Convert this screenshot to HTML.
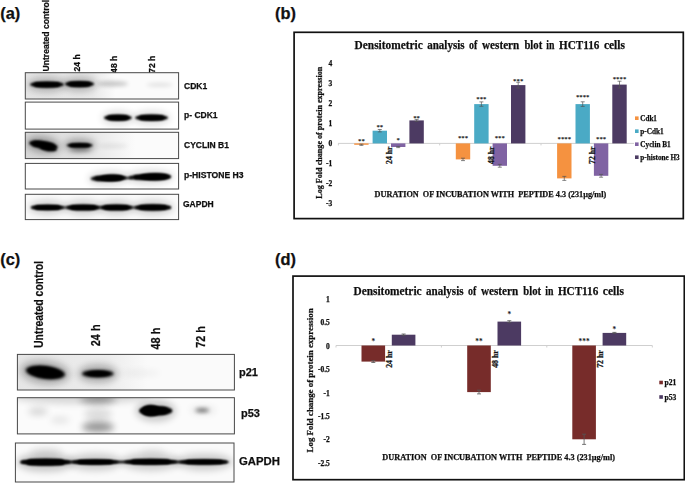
<!DOCTYPE html>
<html><head><meta charset="utf-8"><title>Figure</title>
<style>
html,body{margin:0;padding:0;background:#fff;}
body{width:685px;height:483px;overflow:hidden;font-family:"Liberation Sans",sans-serif;}
svg{display:block;}
</style></head><body>
<svg width="685" height="483" viewBox="0 0 685 483">
<defs>
<filter id="b1" x="-30%" y="-100%" width="160%" height="300%"><feGaussianBlur stdDeviation="1.3"/></filter>
<filter id="b2" x="-30%" y="-150%" width="160%" height="400%"><feGaussianBlur stdDeviation="2.2"/></filter>
<filter id="b3" x="-40%" y="-200%" width="180%" height="500%"><feGaussianBlur stdDeviation="3.5"/></filter>
<filter id="tb" x="-10%" y="-10%" width="120%" height="120%"><feGaussianBlur stdDeviation="0.35"/></filter>
<linearGradient id="gA1" x1="0" x2="1" y1="0" y2="0"><stop offset="0" stop-color="#e4e4e4"/><stop offset="0.75" stop-color="#e9e9e9"/><stop offset="1" stop-color="#fbfbfb"/></linearGradient>
<linearGradient id="gA3" x1="0" x2="1" y1="0" y2="0"><stop offset="0" stop-color="#d6d6d6"/><stop offset="0.6" stop-color="#e6e6e6"/><stop offset="1" stop-color="#fbfbfb"/></linearGradient>
<linearGradient id="gC1" x1="0" x2="1" y1="0" y2="0"><stop offset="0" stop-color="#e6e6e6"/><stop offset="0.7" stop-color="#ececec"/><stop offset="1" stop-color="#fafafa"/></linearGradient>
<linearGradient id="gC2" x1="0" x2="0" y1="0" y2="1"><stop offset="0" stop-color="#dcdcdc"/><stop offset="1" stop-color="#fbfbfb"/></linearGradient>
<filter id="b15" x="-30%" y="-100%" width="160%" height="300%"><feGaussianBlur stdDeviation="1.6"/></filter>
</defs>
<rect width="685" height="483" fill="#fff"/>

<text x="0.2" y="18.7" font-size="16.4" font-family="Liberation Sans, sans-serif" font-weight="bold" text-anchor="start" fill="#111" stroke="#111" stroke-width="0.25" >(a)</text>
<text x="275" y="18.7" font-size="16.4" font-family="Liberation Sans, sans-serif" font-weight="bold" text-anchor="start" fill="#111" stroke="#111" stroke-width="0.25" >(b)</text>
<text x="0.2" y="265.1" font-size="16.4" font-family="Liberation Sans, sans-serif" font-weight="bold" text-anchor="start" fill="#111" stroke="#111" stroke-width="0.25" >(c)</text>
<text x="275" y="265.1" font-size="16.4" font-family="Liberation Sans, sans-serif" font-weight="bold" text-anchor="start" fill="#111" stroke="#111" stroke-width="0.25" >(d)</text>
<g filter="url(#tb)">
<text x="49" y="71.5" font-size="8.6" font-family="Liberation Sans, sans-serif" font-weight="bold" text-anchor="start" fill="#111" stroke="#111" stroke-width="0.25" transform="rotate(-90 49 71.5)" >Untreated control</text>
<text x="80.3" y="71.5" font-size="8.6" font-family="Liberation Sans, sans-serif" font-weight="bold" text-anchor="start" fill="#111" stroke="#111" stroke-width="0.25" transform="rotate(-90 80.3 71.5)" >24 h</text>
<text x="117.3" y="72.9" font-size="8.6" font-family="Liberation Sans, sans-serif" font-weight="bold" text-anchor="start" fill="#111" stroke="#111" stroke-width="0.25" transform="rotate(-90 117.3 72.9)" >48 h</text>
<text x="155" y="72.9" font-size="8.6" font-family="Liberation Sans, sans-serif" font-weight="bold" text-anchor="start" fill="#111" stroke="#111" stroke-width="0.25" transform="rotate(-90 155 72.9)" >72 h</text>
<text x="184" y="89.3" font-size="8.5" font-family="Liberation Sans, sans-serif" font-weight="bold" text-anchor="start" fill="#111" stroke="#111" stroke-width="0.25" >CDK1</text>
<text x="184" y="117.8" font-size="8.5" font-family="Liberation Sans, sans-serif" font-weight="bold" text-anchor="start" fill="#111" stroke="#111" stroke-width="0.25" >p- CDK1</text>
<text x="184" y="148" font-size="8.5" font-family="Liberation Sans, sans-serif" font-weight="bold" text-anchor="start" fill="#111" stroke="#111" stroke-width="0.25" >CYCLIN B1</text>
<text x="184" y="178" font-size="8.6" font-family="Liberation Sans, sans-serif" font-weight="bold" text-anchor="start" fill="#111" stroke="#111" stroke-width="0.25" >p-HISTONE H3</text>
<text x="183" y="207" font-size="8.5" font-family="Liberation Sans, sans-serif" font-weight="bold" text-anchor="start" fill="#111" stroke="#111" stroke-width="0.25" >GAPDH</text>
</g>
<clipPath id="cpa1"><rect x="25.3" y="72.7" width="153.29999999999998" height="26.299999999999997"/></clipPath>
<rect x="25.3" y="72.7" width="153.29999999999998" height="26.299999999999997" fill="#fbfbfb"/>
<g clip-path="url(#cpa1)">
<rect x="25.3" y="72.7" width="90" height="26.299999999999997" fill="url(#gA1)"/>
<ellipse cx="47.0" cy="84.6" rx="19.5" ry="7.6" fill="#000" opacity="0.22" filter="url(#b3)"/>
<ellipse cx="47.0" cy="84.6" rx="16.9" ry="3.2" fill="#000" opacity="1" filter="url(#b1)"/>
<rect x="34.1" y="82.4" width="25.7" height="4.3" rx="2.2" ry="2.2" fill="#000" opacity="1" filter="url(#b1)"/>
<ellipse cx="79.5" cy="84.1" rx="17.0" ry="7.6" fill="#000" opacity="0.22" filter="url(#b3)"/>
<ellipse cx="79.5" cy="84.1" rx="14.5" ry="3.2" fill="#000" opacity="1" filter="url(#b1)"/>
<rect x="68.6" y="81.9" width="21.8" height="4.3" rx="2.2" ry="2.2" fill="#000" opacity="1" filter="url(#b1)"/>
<ellipse cx="112.5" cy="83.8" rx="15.5" ry="2.5" fill="#000" opacity="0.22" filter="url(#b2)"/>
<ellipse cx="159.5" cy="84.8" rx="13.5" ry="2.0" fill="#000" opacity="0.1" filter="url(#b2)"/>
</g>
<rect x="25.3" y="72.7" width="153.29999999999998" height="26.299999999999997" fill="none" stroke="#484848" stroke-width="1"/>
<clipPath id="cpa2"><rect x="25.3" y="102.1" width="153.29999999999998" height="27.0"/></clipPath>
<rect x="25.3" y="102.1" width="153.29999999999998" height="27.0" fill="#fff"/>
<g clip-path="url(#cpa2)">
<ellipse cx="117.9" cy="117.8" rx="16.4" ry="7.6" fill="#000" opacity="0.12" filter="url(#b3)"/>
<ellipse cx="117.9" cy="117.8" rx="13.9" ry="3.2" fill="#000" opacity="1" filter="url(#b1)"/>
<rect x="107.4" y="115.6" width="20.9" height="4.3" rx="2.2" ry="2.2" fill="#000" opacity="1" filter="url(#b1)"/>
<ellipse cx="151.6" cy="117.8" rx="18.9" ry="7.6" fill="#000" opacity="0.12" filter="url(#b3)"/>
<ellipse cx="151.6" cy="117.8" rx="16.4" ry="3.2" fill="#000" opacity="1" filter="url(#b1)"/>
<rect x="139.2" y="115.6" width="24.8" height="4.3" rx="2.2" ry="2.2" fill="#000" opacity="1" filter="url(#b1)"/>
</g>
<rect x="25.3" y="102.1" width="153.29999999999998" height="27.0" fill="none" stroke="#484848" stroke-width="1"/>
<clipPath id="cpa3"><rect x="25.3" y="132.3" width="153.29999999999998" height="26.299999999999983"/></clipPath>
<rect x="25.3" y="132.3" width="153.29999999999998" height="26.299999999999983" fill="#fbfbfb"/>
<g clip-path="url(#cpa3)">
<rect x="25.3" y="132.3" width="110" height="26.299999999999983" fill="url(#gA3)"/>
<ellipse cx="43.4" cy="145.0" rx="16.9" ry="8.3" fill="#000" opacity="0.3" filter="url(#b3)" transform="rotate(9 43.4 145.0)"/>
<ellipse cx="43.4" cy="145.0" rx="14.4" ry="3.9" fill="#000" opacity="1" filter="url(#b1)" transform="rotate(9 43.4 145.0)"/>
<rect x="32.6" y="142.3" width="21.7" height="5.3" rx="2.7" ry="2.7" fill="#000" opacity="1" filter="url(#b1)" transform="rotate(9 43.4 145.0)"/>
<ellipse cx="48.5" cy="148.6" rx="8.5" ry="2.8" fill="#000" opacity="1" filter="url(#b1)" transform="rotate(8 48.5 148.6)"/>
<ellipse cx="79.7" cy="145.3" rx="15.6" ry="6.7" fill="#000" opacity="0.3" filter="url(#b3)"/>
<ellipse cx="79.7" cy="145.3" rx="13.1" ry="2.3" fill="#000" opacity="1" filter="url(#b1)"/>
<rect x="69.8" y="143.8" width="19.7" height="3.1" rx="1.5" ry="1.5" fill="#000" opacity="1" filter="url(#b1)"/>
<ellipse cx="80.5" cy="149.3" rx="10.5" ry="1.8" fill="#000" opacity="0.4" filter="url(#b2)"/>
<ellipse cx="113.0" cy="146" rx="15.0" ry="2.0" fill="#000" opacity="0.07" filter="url(#b2)"/>
</g>
<rect x="25.3" y="132.3" width="153.29999999999998" height="26.299999999999983" fill="none" stroke="#484848" stroke-width="1"/>
<clipPath id="cpa4"><rect x="25.3" y="163.4" width="153.29999999999998" height="25.599999999999994"/></clipPath>
<rect x="25.3" y="163.4" width="153.29999999999998" height="25.599999999999994" fill="#fff"/>
<g clip-path="url(#cpa4)">
<ellipse cx="108.5" cy="178.2" rx="20.5" ry="7.4" fill="#000" opacity="0.14" filter="url(#b3)" transform="rotate(-1.5 108.5 178.2)"/>
<ellipse cx="108.5" cy="178.2" rx="18.0" ry="3.0" fill="#000" opacity="1" filter="url(#b1)" transform="rotate(-1.5 108.5 178.2)"/>
<rect x="94.8" y="176.2" width="27.3" height="4.1" rx="2.0" ry="2.0" fill="#000" opacity="1" filter="url(#b1)" transform="rotate(-1.5 108.5 178.2)"/>
<ellipse cx="150.0" cy="177.0" rx="24.0" ry="7.4" fill="#000" opacity="0.14" filter="url(#b3)" transform="rotate(-1 150.0 177.0)"/>
<ellipse cx="150.0" cy="177.0" rx="21.5" ry="3.0" fill="#000" opacity="1" filter="url(#b1)" transform="rotate(-1 150.0 177.0)"/>
<rect x="133.6" y="175.0" width="32.8" height="4.1" rx="2.0" ry="2.0" fill="#000" opacity="1" filter="url(#b1)" transform="rotate(-1 150.0 177.0)"/>
<ellipse cx="155.2" cy="176.7" rx="15.2" ry="3.8" fill="#000" opacity="1" filter="url(#b1)"/>
<ellipse cx="112.0" cy="177.8" rx="12.0" ry="3.4" fill="#000" opacity="1" filter="url(#b1)"/>
<rect x="121.0" y="176.9" width="12.0" height="2.2" rx="1.1" ry="1.1" fill="#000" opacity="0.9" filter="url(#b1)"/>
</g>
<rect x="25.3" y="163.4" width="153.29999999999998" height="25.599999999999994" fill="none" stroke="#484848" stroke-width="1"/>
<clipPath id="cpa5"><rect x="25.3" y="194.3" width="153.29999999999998" height="25.299999999999983"/></clipPath>
<rect x="25.3" y="194.3" width="153.29999999999998" height="25.299999999999983" fill="#fafafa"/>
<g clip-path="url(#cpa5)">
<rect x="31.0" y="206.4" width="140.0" height="2.2" rx="1.1" ry="1.1" fill="#000" opacity="0.9" filter="url(#b1)"/>
<ellipse cx="47.5" cy="207.5" rx="18.9" ry="7.2" fill="#000" opacity="0.17" filter="url(#b3)"/>
<ellipse cx="47.5" cy="207.5" rx="16.4" ry="2.8" fill="#000" opacity="1" filter="url(#b1)"/>
<rect x="35.1" y="205.6" width="24.8" height="3.8" rx="1.9" ry="1.9" fill="#000" opacity="1" filter="url(#b1)"/>
<ellipse cx="83.2" cy="207.5" rx="19.2" ry="7.5" fill="#000" opacity="0.17" filter="url(#b3)"/>
<ellipse cx="83.2" cy="207.5" rx="16.8" ry="3.1" fill="#000" opacity="1" filter="url(#b1)"/>
<rect x="70.6" y="205.4" width="25.4" height="4.1" rx="2.1" ry="2.1" fill="#000" opacity="1" filter="url(#b1)"/>
<ellipse cx="116.3" cy="207.5" rx="18.6" ry="7.5" fill="#000" opacity="0.17" filter="url(#b3)"/>
<ellipse cx="116.3" cy="207.5" rx="16.1" ry="3.1" fill="#000" opacity="1" filter="url(#b1)"/>
<rect x="104.1" y="205.4" width="24.4" height="4.1" rx="2.1" ry="2.1" fill="#000" opacity="1" filter="url(#b1)"/>
<ellipse cx="152.9" cy="207.5" rx="20.7" ry="7.6" fill="#000" opacity="0.17" filter="url(#b3)"/>
<ellipse cx="152.9" cy="207.5" rx="18.2" ry="3.2" fill="#000" opacity="1" filter="url(#b1)"/>
<rect x="139.1" y="205.3" width="27.6" height="4.3" rx="2.2" ry="2.2" fill="#000" opacity="1" filter="url(#b1)"/>
</g>
<rect x="25.3" y="194.3" width="153.29999999999998" height="25.299999999999983" fill="none" stroke="#484848" stroke-width="1"/>
<g filter="url(#tb)">
<text x="43.3" y="348" font-size="12" font-family="Liberation Sans, sans-serif" font-weight="bold" text-anchor="start" fill="#111" stroke="#111" stroke-width="0.25" transform="rotate(-90 43.3 348)" textLength="87" lengthAdjust="spacingAndGlyphs">Untreated control</text>
<text x="100.2" y="346.2" font-size="12" font-family="Liberation Sans, sans-serif" font-weight="bold" text-anchor="start" fill="#111" stroke="#111" stroke-width="0.25" transform="rotate(-90 100.2 346.2)" textLength="21.8" lengthAdjust="spacingAndGlyphs">24 h</text>
<text x="159.6" y="349.5" font-size="12" font-family="Liberation Sans, sans-serif" font-weight="bold" text-anchor="start" fill="#111" stroke="#111" stroke-width="0.25" transform="rotate(-90 159.6 349.5)" textLength="21.8" lengthAdjust="spacingAndGlyphs">48 h</text>
<text x="204.6" y="347.8" font-size="12" font-family="Liberation Sans, sans-serif" font-weight="bold" text-anchor="start" fill="#111" stroke="#111" stroke-width="0.25" transform="rotate(-90 204.6 347.8)" textLength="21.8" lengthAdjust="spacingAndGlyphs">72 h</text>
<text x="239" y="375.5" font-size="11" font-family="Liberation Sans, sans-serif" font-weight="bold" text-anchor="start" fill="#111" stroke="#111" stroke-width="0.25" >p21</text>
<text x="241" y="417" font-size="11" font-family="Liberation Sans, sans-serif" font-weight="bold" text-anchor="start" fill="#111" stroke="#111" stroke-width="0.25" >p53</text>
<text x="239" y="465" font-size="11.3" font-family="Liberation Sans, sans-serif" font-weight="bold" text-anchor="start" fill="#111" stroke="#111" stroke-width="0.25" >GAPDH</text>
</g>
<clipPath id="cpc1"><rect x="17.4" y="354.4" width="217.0" height="35.60000000000002"/></clipPath>
<rect x="17.4" y="354.4" width="217.0" height="35.60000000000002" fill="#fafafa"/>
<g clip-path="url(#cpc1)">
<rect x="17.4" y="354" width="130" height="36" fill="url(#gC1)"/>
<ellipse cx="45.0" cy="372.3" rx="25.0" ry="12.0" fill="#000" opacity="0.25" filter="url(#b3)" transform="rotate(6 45.0 372.3)"/>
<ellipse cx="45.4" cy="372.3" rx="19.8" ry="6.6" fill="#000" opacity="1" filter="url(#b15)" transform="rotate(7 45.4 372.3)"/>
<ellipse cx="45.0" cy="372.3" rx="16.0" ry="5.2" fill="#000" opacity="1" filter="url(#b1)" transform="rotate(7 45.0 372.3)"/>
<ellipse cx="98.0" cy="373.6" rx="20.0" ry="9.5" fill="#000" opacity="0.25" filter="url(#b3)"/>
<ellipse cx="97.8" cy="373.7" rx="15.8" ry="3.8" fill="#000" opacity="1" filter="url(#b15)"/>
<ellipse cx="98.0" cy="373.7" rx="11.0" ry="2.6" fill="#000" opacity="1" filter="url(#b1)"/>
<ellipse cx="140.0" cy="373" rx="20.0" ry="2.5" fill="#000" opacity="0.06" filter="url(#b3)"/>
</g>
<rect x="17.4" y="354.4" width="217.0" height="35.60000000000002" fill="none" stroke="#484848" stroke-width="1"/>
<clipPath id="cpc2"><rect x="17.4" y="397.7" width="217.0" height="36.19999999999999"/></clipPath>
<rect x="17.4" y="397.7" width="217.0" height="36.19999999999999" fill="#fbfbfb"/>
<g clip-path="url(#cpc2)">
<ellipse cx="80.0" cy="396" rx="70.0" ry="8.0" fill="#000" opacity="0.14" filter="url(#b3)"/>
<ellipse cx="155.7" cy="410.8" rx="20.2" ry="10.8" fill="#000" opacity="0.2" filter="url(#b3)"/>
<ellipse cx="155.7" cy="410.8" rx="16.7" ry="4.9" fill="#000" opacity="1" filter="url(#b1)"/>
<rect x="143.7" y="407.3" width="23.9" height="6.9" rx="3.5" ry="3.5" fill="#000" opacity="1" filter="url(#b1)"/>
<ellipse cx="150.5" cy="410.6" rx="9.5" ry="5.8" fill="#000" opacity="1" filter="url(#b1)"/>
<ellipse cx="202.2" cy="410.2" rx="6.8" ry="1.7" fill="#000" opacity="0.62" filter="url(#b2)"/>
<ellipse cx="203.0" cy="410.2" rx="13.0" ry="4.5" fill="#000" opacity="0.07" filter="url(#b3)"/>
<ellipse cx="38.0" cy="411.5" rx="10.0" ry="3.5" fill="#000" opacity="0.16" filter="url(#b3)"/>
<ellipse cx="60.0" cy="420" rx="10.0" ry="3.0" fill="#000" opacity="0.1" filter="url(#b3)"/>
<ellipse cx="98.0" cy="399.5" rx="18.0" ry="3.0" fill="#000" opacity="0.45" filter="url(#b3)"/>
<ellipse cx="98.0" cy="427" rx="16.0" ry="5.0" fill="#000" opacity="0.42" filter="url(#b3)"/>
<ellipse cx="98.0" cy="414" rx="14.0" ry="6.0" fill="#000" opacity="0.12" filter="url(#b3)"/>
</g>
<rect x="17.4" y="397.7" width="217.0" height="36.19999999999999" fill="none" stroke="#484848" stroke-width="1"/>
<clipPath id="cpc3"><rect x="15.4" y="443" width="218.6" height="39"/></clipPath>
<rect x="15.4" y="443" width="218.6" height="39" fill="#fafafa"/>
<g clip-path="url(#cpc3)">
<rect x="21.0" y="460.8" width="206.0" height="2.4" rx="1.2" ry="1.2" fill="#000" opacity="0.95" filter="url(#b1)"/>
<ellipse cx="45.5" cy="462.2" rx="29.0" ry="9.5" fill="#000" opacity="0.2" filter="url(#b3)"/>
<ellipse cx="45.5" cy="462.2" rx="25.5" ry="3.6" fill="#000" opacity="1" filter="url(#b1)"/>
<rect x="27.0" y="459.7" width="37.0" height="5.0" rx="2.5" ry="2.5" fill="#000" opacity="1" filter="url(#b1)"/>
<ellipse cx="95.2" cy="462" rx="27.1" ry="8.7" fill="#000" opacity="0.18" filter="url(#b3)"/>
<ellipse cx="95.2" cy="462" rx="23.6" ry="2.8" fill="#000" opacity="1" filter="url(#b1)"/>
<rect x="78.0" y="460.1" width="34.3" height="3.9" rx="1.9" ry="1.9" fill="#000" opacity="1" filter="url(#b1)"/>
<ellipse cx="150.7" cy="461.8" rx="30.2" ry="8.9" fill="#000" opacity="0.18" filter="url(#b3)"/>
<ellipse cx="150.7" cy="461.8" rx="26.7" ry="3.0" fill="#000" opacity="1" filter="url(#b1)"/>
<rect x="131.3" y="459.7" width="38.7" height="4.2" rx="2.1" ry="2.1" fill="#000" opacity="1" filter="url(#b1)"/>
<ellipse cx="204.2" cy="462" rx="28.5" ry="8.6" fill="#000" opacity="0.18" filter="url(#b3)"/>
<ellipse cx="204.2" cy="462" rx="25.0" ry="2.7" fill="#000" opacity="1" filter="url(#b1)"/>
<rect x="186.1" y="460.1" width="36.3" height="3.7" rx="1.9" ry="1.9" fill="#000" opacity="1" filter="url(#b1)"/>
<ellipse cx="46.0" cy="452" rx="16.0" ry="5.0" fill="#000" opacity="0.08" filter="url(#b3)"/>
<ellipse cx="152.5" cy="452" rx="12.5" ry="4.0" fill="#000" opacity="0.06" filter="url(#b3)"/>
</g>
<rect x="15.4" y="443" width="218.6" height="39" fill="none" stroke="#484848" stroke-width="1"/>
<rect x="294.1" y="32.3" width="389.19999999999993" height="186.3" fill="#fff" stroke="#111" stroke-width="1.7"/>
<g filter="url(#tb)">
<text x="354.6" y="49.4" font-size="12.3" font-family="Liberation Serif, serif" font-weight="bold" text-anchor="start" fill="#111" stroke="#111" stroke-width="0.25" textLength="68.1" lengthAdjust="spacingAndGlyphs">Densitometric</text>
<text x="427.2" y="49.4" font-size="12.3" font-family="Liberation Serif, serif" font-weight="bold" text-anchor="start" fill="#111" stroke="#111" stroke-width="0.25" textLength="37.4" lengthAdjust="spacingAndGlyphs">analysis</text>
<text x="469.1" y="49.4" font-size="12.3" font-family="Liberation Serif, serif" font-weight="bold" text-anchor="start" fill="#111" stroke="#111" stroke-width="0.25" textLength="8.3" lengthAdjust="spacingAndGlyphs">of</text>
<text x="482.0" y="49.4" font-size="12.3" font-family="Liberation Serif, serif" font-weight="bold" text-anchor="start" fill="#111" stroke="#111" stroke-width="0.25" textLength="37.3" lengthAdjust="spacingAndGlyphs">western</text>
<text x="524.4" y="49.4" font-size="12.3" font-family="Liberation Serif, serif" font-weight="bold" text-anchor="start" fill="#111" stroke="#111" stroke-width="0.25" textLength="17.8" lengthAdjust="spacingAndGlyphs">blot</text>
<text x="546.3" y="49.4" font-size="12.3" font-family="Liberation Serif, serif" font-weight="bold" text-anchor="start" fill="#111" stroke="#111" stroke-width="0.25" textLength="8.2" lengthAdjust="spacingAndGlyphs">in</text>
<text x="559.0" y="49.4" font-size="12.3" font-family="Liberation Serif, serif" font-weight="bold" text-anchor="start" fill="#111" stroke="#111" stroke-width="0.25" textLength="40.4" lengthAdjust="spacingAndGlyphs">HCT116</text>
<text x="603.9" y="49.4" font-size="12.3" font-family="Liberation Serif, serif" font-weight="bold" text-anchor="start" fill="#111" stroke="#111" stroke-width="0.25" textLength="21.1" lengthAdjust="spacingAndGlyphs">cells</text>
<text x="332.3" y="206.0" font-size="7.5" font-family="Liberation Serif, serif" font-weight="bold" text-anchor="end" fill="#111" stroke="#111" stroke-width="0.25" >-3</text>
<text x="332.3" y="186.0" font-size="7.5" font-family="Liberation Serif, serif" font-weight="bold" text-anchor="end" fill="#111" stroke="#111" stroke-width="0.25" >-2</text>
<text x="332.3" y="166.0" font-size="7.5" font-family="Liberation Serif, serif" font-weight="bold" text-anchor="end" fill="#111" stroke="#111" stroke-width="0.25" >-1</text>
<text x="332.3" y="146.0" font-size="7.5" font-family="Liberation Serif, serif" font-weight="bold" text-anchor="end" fill="#111" stroke="#111" stroke-width="0.25" >0</text>
<text x="332.3" y="126.0" font-size="7.5" font-family="Liberation Serif, serif" font-weight="bold" text-anchor="end" fill="#111" stroke="#111" stroke-width="0.25" >1</text>
<text x="332.3" y="106.0" font-size="7.5" font-family="Liberation Serif, serif" font-weight="bold" text-anchor="end" fill="#111" stroke="#111" stroke-width="0.25" >2</text>
<text x="332.3" y="86.0" font-size="7.5" font-family="Liberation Serif, serif" font-weight="bold" text-anchor="end" fill="#111" stroke="#111" stroke-width="0.25" >3</text>
<text x="332.3" y="66.0" font-size="7.5" font-family="Liberation Serif, serif" font-weight="bold" text-anchor="end" fill="#111" stroke="#111" stroke-width="0.25" >4</text>
<text x="322.3" y="132.7" font-size="8.2" font-family="Liberation Serif, serif" font-weight="bold" text-anchor="middle" fill="#111" stroke="#111" stroke-width="0.25" transform="rotate(-90 322.3 132.7)" textLength="132" lengthAdjust="spacingAndGlyphs">Log Fold change of protein expression</text>
<text x="490.4" y="196.5" font-size="8.2" font-family="Liberation Serif, serif" font-weight="bold" text-anchor="middle" fill="#111" stroke="#111" stroke-width="0.25" textLength="231.6" lengthAdjust="spacingAndGlyphs">DURATION&#160; OF INCUBATION WITH&#160; PEPTIDE 4.3 (231µg/ml)</text>
</g>
<line x1="338" y1="143.4" x2="634" y2="143.4" stroke="#cfcfcf" stroke-width="1"/>
<line x1="338.4" y1="143.4" x2="338.4" y2="145.4" stroke="#cfcfcf" stroke-width="1"/>
<line x1="439.7" y1="143.4" x2="439.7" y2="145.4" stroke="#cfcfcf" stroke-width="1"/>
<line x1="541" y1="143.4" x2="541" y2="145.4" stroke="#cfcfcf" stroke-width="1"/>
<rect x="354.2" y="143.4" width="14.4" height="1.4" fill="#F59240"/>
<path d="M361.4 144.2V145.4M359.4 144.2H363.4M359.4 145.4H363.4" stroke="#555" stroke-width="0.7" fill="none"/>
<text x="361.4" y="142.6" font-size="6.8" font-family="Liberation Serif, serif" font-weight="bold" text-anchor="middle" fill="#111" stroke="#111" stroke-width="0" >**</text>
<rect x="372.6" y="130.7" width="14.4" height="12.7" fill="#4AAAC5"/>
<path d="M379.8 129.5V131.9M377.8 129.5H381.8M377.8 131.9H381.8" stroke="#555" stroke-width="0.7" fill="none"/>
<text x="379.79999999999995" y="129.2" font-size="6.8" font-family="Liberation Serif, serif" font-weight="bold" text-anchor="middle" fill="#111" stroke="#111" stroke-width="0" >**</text>
<rect x="391.0" y="143.4" width="14.4" height="3.6" fill="#8063A3"/>
<path d="M398.2 146.4V147.6M396.2 146.4H400.2M396.2 147.6H400.2" stroke="#555" stroke-width="0.7" fill="none"/>
<text x="398.2" y="142.29999999999998" font-size="6.8" font-family="Liberation Serif, serif" font-weight="bold" text-anchor="middle" fill="#111" stroke="#111" stroke-width="0" >*</text>
<rect x="409.4" y="120.4" width="14.4" height="23.0" fill="#4C3A62"/>
<path d="M416.6 119.4V121.4M414.6 119.4H418.6M414.6 121.4H418.6" stroke="#555" stroke-width="0.7" fill="none"/>
<text x="416.59999999999997" y="120.0" font-size="6.8" font-family="Liberation Serif, serif" font-weight="bold" text-anchor="middle" fill="#111" stroke="#111" stroke-width="0" >**</text>
<text x="392.2" y="163.9" font-size="7.7" font-family="Liberation Serif, serif" font-weight="bold" text-anchor="start" fill="#111" stroke="#111" stroke-width="0.25" transform="rotate(-90 392.2 163.9)" >24 hr</text>
<rect x="455.8" y="143.4" width="14.4" height="16.0" fill="#F59240"/>
<path d="M463.0 158.2V160.6M461.0 158.2H465.0M461.0 160.6H465.0" stroke="#555" stroke-width="0.7" fill="none"/>
<text x="463.0" y="139.79999999999998" font-size="6.8" font-family="Liberation Serif, serif" font-weight="bold" text-anchor="middle" fill="#111" stroke="#111" stroke-width="0" >***</text>
<rect x="474.2" y="104.1" width="14.4" height="39.3" fill="#4AAAC5"/>
<path d="M481.4 101.9V106.3M479.4 101.9H483.4M479.4 106.3H483.4" stroke="#555" stroke-width="0.7" fill="none"/>
<text x="481.4" y="101.2" font-size="6.8" font-family="Liberation Serif, serif" font-weight="bold" text-anchor="middle" fill="#111" stroke="#111" stroke-width="0" >***</text>
<rect x="492.6" y="143.4" width="14.4" height="22.4" fill="#8063A3"/>
<path d="M499.8 164.4V167.2M497.8 164.4H501.8M497.8 167.2H501.8" stroke="#555" stroke-width="0.7" fill="none"/>
<text x="499.8" y="140.0" font-size="6.8" font-family="Liberation Serif, serif" font-weight="bold" text-anchor="middle" fill="#111" stroke="#111" stroke-width="0" >***</text>
<rect x="511.0" y="85.1" width="14.4" height="58.3" fill="#4C3A62"/>
<path d="M518.2 82.2V88.0M516.2 82.2H520.2M516.2 88.0H520.2" stroke="#555" stroke-width="0.7" fill="none"/>
<text x="518.2" y="82.60000000000001" font-size="6.8" font-family="Liberation Serif, serif" font-weight="bold" text-anchor="middle" fill="#111" stroke="#111" stroke-width="0" >***</text>
<text x="493.8" y="163.9" font-size="7.7" font-family="Liberation Serif, serif" font-weight="bold" text-anchor="start" fill="#111" stroke="#111" stroke-width="0.25" transform="rotate(-90 493.8 163.9)" >48 hr</text>
<rect x="557.1" y="143.4" width="14.4" height="35.0" fill="#F59240"/>
<path d="M564.3 176.4V180.4M562.3 176.4H566.3M562.3 180.4H566.3" stroke="#555" stroke-width="0.7" fill="none"/>
<text x="564.3000000000001" y="140.7" font-size="6.8" font-family="Liberation Serif, serif" font-weight="bold" text-anchor="middle" fill="#111" stroke="#111" stroke-width="0" >****</text>
<rect x="575.5" y="104.1" width="14.4" height="39.3" fill="#4AAAC5"/>
<path d="M582.7 101.8V106.4M580.7 101.8H584.7M580.7 106.4H584.7" stroke="#555" stroke-width="0.7" fill="none"/>
<text x="582.7" y="99.10000000000001" font-size="6.8" font-family="Liberation Serif, serif" font-weight="bold" text-anchor="middle" fill="#111" stroke="#111" stroke-width="0" >****</text>
<rect x="593.9" y="143.4" width="14.4" height="32.4" fill="#8063A3"/>
<path d="M601.1 174.4V177.2M599.1 174.4H603.1M599.1 177.2H603.1" stroke="#555" stroke-width="0.7" fill="none"/>
<text x="601.1" y="140.7" font-size="6.8" font-family="Liberation Serif, serif" font-weight="bold" text-anchor="middle" fill="#111" stroke="#111" stroke-width="0" >***</text>
<rect x="612.3" y="84.6" width="14.4" height="58.8" fill="#4C3A62"/>
<path d="M619.5 81.2V88.0M617.5 81.2H621.5M617.5 88.0H621.5" stroke="#555" stroke-width="0.7" fill="none"/>
<text x="619.5000000000001" y="81.10000000000001" font-size="6.8" font-family="Liberation Serif, serif" font-weight="bold" text-anchor="middle" fill="#111" stroke="#111" stroke-width="0" >****</text>
<text x="595.1" y="163.9" font-size="7.7" font-family="Liberation Serif, serif" font-weight="bold" text-anchor="start" fill="#111" stroke="#111" stroke-width="0.25" transform="rotate(-90 595.1 163.9)" >72 hr</text>
<g filter="url(#tb)">
<rect x="635" y="116.4" width="3.6" height="3.6" fill="#F59240"/>
<text x="640.3" y="120.7" font-size="7.5" font-family="Liberation Serif, serif" font-weight="bold" text-anchor="start" fill="#111" stroke="#111" stroke-width="0.25" textLength="16.6" lengthAdjust="spacingAndGlyphs">Cdk1</text>
<rect x="635" y="129.4" width="3.6" height="3.6" fill="#4AAAC5"/>
<text x="640.3" y="133.7" font-size="7.5" font-family="Liberation Serif, serif" font-weight="bold" text-anchor="start" fill="#111" stroke="#111" stroke-width="0.25" textLength="23.4" lengthAdjust="spacingAndGlyphs">p-Cdk1</text>
<rect x="635" y="142.4" width="3.6" height="3.6" fill="#8063A3"/>
<text x="640.3" y="146.7" font-size="7.5" font-family="Liberation Serif, serif" font-weight="bold" text-anchor="start" fill="#111" stroke="#111" stroke-width="0.25" textLength="30.4" lengthAdjust="spacingAndGlyphs">Cyclin B1</text>
<rect x="635" y="155.4" width="3.6" height="3.6" fill="#4C3A62"/>
<text x="640.3" y="159.7" font-size="7.5" font-family="Liberation Serif, serif" font-weight="bold" text-anchor="start" fill="#111" stroke="#111" stroke-width="0.25" textLength="39.4" lengthAdjust="spacingAndGlyphs">p-histone H3</text>
</g>
<rect x="293" y="276.1" width="391.29999999999995" height="203.59999999999997" fill="#fff" stroke="#111" stroke-width="1.7"/>
<g filter="url(#tb)">
<text x="353.5" y="294.8" font-size="12.8" font-family="Liberation Serif, serif" font-weight="bold" text-anchor="start" fill="#111" stroke="#111" stroke-width="0.25" textLength="68.1" lengthAdjust="spacingAndGlyphs">Densitometric</text>
<text x="426.1" y="294.8" font-size="12.8" font-family="Liberation Serif, serif" font-weight="bold" text-anchor="start" fill="#111" stroke="#111" stroke-width="0.25" textLength="37.4" lengthAdjust="spacingAndGlyphs">analysis</text>
<text x="468.0" y="294.8" font-size="12.8" font-family="Liberation Serif, serif" font-weight="bold" text-anchor="start" fill="#111" stroke="#111" stroke-width="0.25" textLength="8.3" lengthAdjust="spacingAndGlyphs">of</text>
<text x="480.9" y="294.8" font-size="12.8" font-family="Liberation Serif, serif" font-weight="bold" text-anchor="start" fill="#111" stroke="#111" stroke-width="0.25" textLength="37.3" lengthAdjust="spacingAndGlyphs">western</text>
<text x="523.3" y="294.8" font-size="12.8" font-family="Liberation Serif, serif" font-weight="bold" text-anchor="start" fill="#111" stroke="#111" stroke-width="0.25" textLength="17.8" lengthAdjust="spacingAndGlyphs">blot</text>
<text x="545.2" y="294.8" font-size="12.8" font-family="Liberation Serif, serif" font-weight="bold" text-anchor="start" fill="#111" stroke="#111" stroke-width="0.25" textLength="8.2" lengthAdjust="spacingAndGlyphs">in</text>
<text x="557.9" y="294.8" font-size="12.8" font-family="Liberation Serif, serif" font-weight="bold" text-anchor="start" fill="#111" stroke="#111" stroke-width="0.25" textLength="40.4" lengthAdjust="spacingAndGlyphs">HCT116</text>
<text x="602.8" y="294.8" font-size="12.8" font-family="Liberation Serif, serif" font-weight="bold" text-anchor="start" fill="#111" stroke="#111" stroke-width="0.25" textLength="21.1" lengthAdjust="spacingAndGlyphs">cells</text>
<text x="329.8" y="301.9" font-size="7.5" font-family="Liberation Serif, serif" font-weight="bold" text-anchor="end" fill="#111" stroke="#111" stroke-width="0.25" >1</text>
<text x="329.8" y="325.3" font-size="7.5" font-family="Liberation Serif, serif" font-weight="bold" text-anchor="end" fill="#111" stroke="#111" stroke-width="0.25" >0.5</text>
<text x="329.8" y="348.7" font-size="7.5" font-family="Liberation Serif, serif" font-weight="bold" text-anchor="end" fill="#111" stroke="#111" stroke-width="0.25" >0</text>
<text x="329.8" y="372.09999999999997" font-size="7.5" font-family="Liberation Serif, serif" font-weight="bold" text-anchor="end" fill="#111" stroke="#111" stroke-width="0.25" >-0.5</text>
<text x="329.8" y="395.5" font-size="7.5" font-family="Liberation Serif, serif" font-weight="bold" text-anchor="end" fill="#111" stroke="#111" stroke-width="0.25" >-1</text>
<text x="329.8" y="418.9" font-size="7.5" font-family="Liberation Serif, serif" font-weight="bold" text-anchor="end" fill="#111" stroke="#111" stroke-width="0.25" >-1.5</text>
<text x="329.8" y="442.3" font-size="7.5" font-family="Liberation Serif, serif" font-weight="bold" text-anchor="end" fill="#111" stroke="#111" stroke-width="0.25" >-2</text>
<text x="329.8" y="465.7" font-size="7.5" font-family="Liberation Serif, serif" font-weight="bold" text-anchor="end" fill="#111" stroke="#111" stroke-width="0.25" >-2.5</text>
<text x="313.2" y="380.4" font-size="8.8" font-family="Liberation Serif, serif" font-weight="bold" text-anchor="middle" fill="#111" stroke="#111" stroke-width="0.25" transform="rotate(-90 313.2 380.4)" textLength="144" lengthAdjust="spacingAndGlyphs">Log Fold change of protein expression</text>
<text x="498.6" y="459.8" font-size="8.3" font-family="Liberation Serif, serif" font-weight="bold" text-anchor="middle" fill="#111" stroke="#111" stroke-width="0.25" textLength="232.7" lengthAdjust="spacingAndGlyphs">DURATION&#160; OF INCUBATION WITH&#160; PEPTIDE 4.3 (231µg/ml)</text>
</g>
<line x1="336" y1="345.5" x2="652.3" y2="345.5" stroke="#cfcfcf" stroke-width="1"/>
<line x1="336" y1="345.5" x2="336" y2="347.5" stroke="#cfcfcf" stroke-width="1"/>
<line x1="441.4" y1="345.5" x2="441.4" y2="347.5" stroke="#cfcfcf" stroke-width="1"/>
<line x1="546.8" y1="345.5" x2="546.8" y2="347.5" stroke="#cfcfcf" stroke-width="1"/>
<line x1="652.3" y1="345.5" x2="652.3" y2="347.5" stroke="#cfcfcf" stroke-width="1"/>
<rect x="361.5" y="345.5" width="23.6" height="16.1" fill="#772C2A"/>
<path d="M373.3 360.7V362.5M371.3 360.7H375.3M371.3 362.5H375.3" stroke="#555" stroke-width="0.8" fill="none"/>
<text x="373.3" y="344.29999999999995" font-size="7.3" font-family="Liberation Serif, serif" font-weight="bold" text-anchor="middle" fill="#111" stroke="#111" stroke-width="0" >*</text>
<rect x="391.8" y="334.7" width="23.6" height="10.8" fill="#4C3A62"/>
<path d="M403.6 334.0V335.4M401.6 334.0H405.6M401.6 335.4H405.6" stroke="#555" stroke-width="0.8" fill="none"/>
<text x="392.1" y="367.8" font-size="7.8" font-family="Liberation Serif, serif" font-weight="bold" text-anchor="start" fill="#111" stroke="#111" stroke-width="0.25" transform="rotate(-90 392.1 367.8)" >24 hr</text>
<rect x="467.2" y="345.5" width="23.6" height="46.6" fill="#772C2A"/>
<path d="M479.0 390.2V393.9M477.0 390.2H481.0M477.0 393.9H481.0" stroke="#555" stroke-width="0.8" fill="none"/>
<text x="479.0" y="344.29999999999995" font-size="7.3" font-family="Liberation Serif, serif" font-weight="bold" text-anchor="middle" fill="#111" stroke="#111" stroke-width="0" >**</text>
<rect x="497.5" y="321.6" width="23.6" height="23.9" fill="#4C3A62"/>
<path d="M509.3 320.7V322.6M507.3 320.7H511.3M507.3 322.6H511.3" stroke="#555" stroke-width="0.8" fill="none"/>
<text x="509.3" y="317.496" font-size="7.3" font-family="Liberation Serif, serif" font-weight="bold" text-anchor="middle" fill="#111" stroke="#111" stroke-width="0" >*</text>
<text x="497.8" y="367.8" font-size="7.8" font-family="Liberation Serif, serif" font-weight="bold" text-anchor="start" fill="#111" stroke="#111" stroke-width="0.25" transform="rotate(-90 497.8 367.8)" >48 hr</text>
<rect x="572.3" y="345.5" width="23.6" height="93.8" fill="#772C2A"/>
<path d="M584.1 434.2V444.4M582.1 434.2H586.1M582.1 444.4H586.1" stroke="#555" stroke-width="0.8" fill="none"/>
<text x="584.0999999999999" y="344.29999999999995" font-size="7.3" font-family="Liberation Serif, serif" font-weight="bold" text-anchor="middle" fill="#111" stroke="#111" stroke-width="0" >***</text>
<rect x="602.6" y="332.9" width="23.6" height="12.6" fill="#4C3A62"/>
<path d="M614.4 332.4V333.3M612.4 332.4H616.4M612.4 333.3H616.4" stroke="#555" stroke-width="0.8" fill="none"/>
<text x="614.3999999999999" y="331.59599999999995" font-size="7.3" font-family="Liberation Serif, serif" font-weight="bold" text-anchor="middle" fill="#111" stroke="#111" stroke-width="0" >*</text>
<text x="602.9" y="367.8" font-size="7.8" font-family="Liberation Serif, serif" font-weight="bold" text-anchor="start" fill="#111" stroke="#111" stroke-width="0.25" transform="rotate(-90 602.9 367.8)" >72 hr</text>
<g filter="url(#tb)">
<rect x="659.3" y="380.7" width="3.6" height="3.6" fill="#772C2A"/>
<text x="664.6" y="385.0" font-size="7.6" font-family="Liberation Serif, serif" font-weight="bold" text-anchor="start" fill="#111" stroke="#111" stroke-width="0.25" >p21</text>
<rect x="659.3" y="395.2" width="3.6" height="3.6" fill="#4C3A62"/>
<text x="664.6" y="399.5" font-size="7.6" font-family="Liberation Serif, serif" font-weight="bold" text-anchor="start" fill="#111" stroke="#111" stroke-width="0.25" >p53</text>
</g>
</svg></body></html>
